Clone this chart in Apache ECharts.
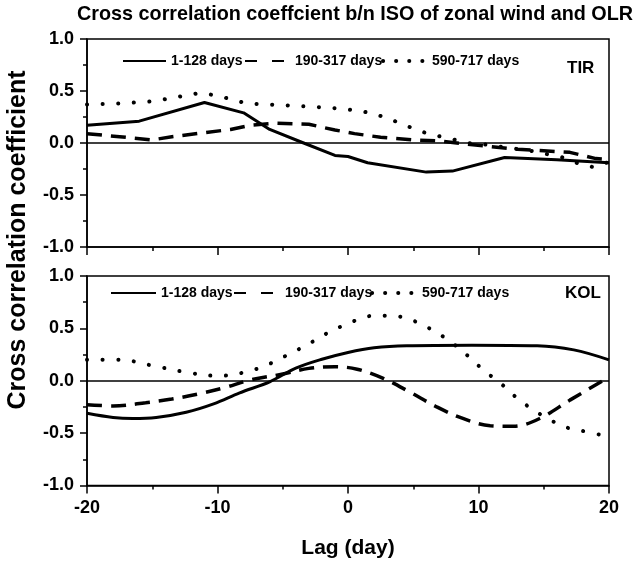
<!DOCTYPE html>
<html><head><meta charset="utf-8">
<script src="https://cdn.jsdelivr.net/npm/echarts@6/dist/echarts.min.js"></script>
<style>html,body{margin:0;padding:0;background:#fff}#c{width:636px;height:561px}</style>
</head><body><div id="c"></div>
<script>
// ---- Data ----
const seriesNames = ['1-128 days', '190-317 days', '590-717 days'];
const panelNames = ['TIR', 'KOL'];
const xTickLabels = {'-20': '-20', '-10': '-10', '0': '0', '10': '10', '20': '20'};
const yTickLabels = {'-1': '-1.0', '-0.5': '-0.5', '0': '0.0', '0.5': '0.5', '1': '1.0'};

// TIR panel
const tirSolidLag = [-20, -16, -11, -8, -6, -3.4, -1, 0, 1.5, 6, 8, 12, 16, 20];
const tirSolidVal = [0.17, 0.21, 0.39, 0.29, 0.13, 0.0, -0.12, -0.13, -0.19, -0.28, -0.27, -0.14, -0.16, -0.19];
const tirDashLag = [-20, -17.5, -15, -13.5, -11, -9, -7.5, -5.5, -3, -1, 0.5, 2.5, 5, 7, 9, 11, 13, 15, 17, 19, 20];
const tirDashVal = [0.09, 0.06, 0.03, 0.06, 0.10, 0.13, 0.17, 0.19, 0.18, 0.125, 0.09, 0.055, 0.03, 0.02, -0.01, -0.035, -0.06, -0.075, -0.09, -0.15, -0.16];
const tirDotLag = [-20, -17.5, -15, -12.5, -11.4, -10.2, -8.9, -7.8, -5.2, -2.9, -0.5, 0.8, 1.9, 3.2, 4.4, 5.6, 6.8, 7.9, 9.2, 10.4, 11.6, 14.1, 16.5, 17.8, 18.9, 20];
const tirDotVal = [0.37, 0.38, 0.40, 0.455, 0.48, 0.46, 0.42, 0.38, 0.365, 0.35, 0.33, 0.31, 0.285, 0.23, 0.17, 0.11, 0.07, 0.04, 0.0, -0.013, -0.035, -0.077, -0.14, -0.205, -0.235, -0.18];

// KOL panel
const kolSolidLag = [-20, -18, -16.5, -14.7, -12.4, -10.3, -8.3, -6, -4, -2, 0, 2, 4.5, 9.5, 14.5, 17.3, 20];
const kolSolidVal = [-0.31, -0.35, -0.36, -0.35, -0.30, -0.22, -0.115, -0.01, 0.12, 0.205, 0.27, 0.315, 0.335, 0.34, 0.335, 0.295, 0.20];
const kolDashLag = [-20, -18, -15.5, -13.5, -11.5, -9.5, -7.5, -5, -3, -1, 0.7, 2.7, 4.7, 6.8, 8.8, 10.9, 12.7, 14.7, 17, 19.8];
const kolDashVal = [-0.23, -0.24, -0.21, -0.175, -0.127, -0.067, 0.007, 0.064, 0.118, 0.134, 0.11, 0.023, -0.105, -0.25, -0.36, -0.43, -0.435, -0.36, -0.185, 0.02];
const kolDotLag = [-20, -17.5, -15, -12.6, -10.2, -8.9, -7.8, -6.5, -5.3, -4.1, -2.9, -1.7, -0.5, 0.7, 1.9, 3.2, 4.4, 5.6, 6.8, 8, 9.2, 10.4, 11.7, 12.9, 14.1, 15.3, 16.6, 18, 19.5];
const kolDotVal = [0.20, 0.20, 0.145, 0.086, 0.048, 0.055, 0.086, 0.134, 0.205, 0.28, 0.36, 0.447, 0.52, 0.58, 0.62, 0.62, 0.60, 0.54, 0.46, 0.36, 0.236, 0.10, -0.025, -0.16, -0.27, -0.36, -0.44, -0.48, -0.52];

// ---- Chart ----
const FONT = '"Liberation Sans", Arial, sans-serif';
const BLACK = '#000';
const zip = (a, b) => a.map((x, i) => [x, b[i]]);

const styles = [
  {width: 3, type: 'solid', color: BLACK},
  {width: 3.5, type: [15, 9], color: BLACK},
  {width: 4, type: [0.1, 15.5], cap: 'round', color: BLACK}
];
const panels = [
  [zip(tirSolidLag, tirSolidVal), zip(tirDashLag, tirDashVal), zip(tirDotLag, tirDotVal)],
  [zip(kolSolidLag, kolSolidVal), zip(kolDashLag, kolDashVal), zip(kolDotLag, kolDotVal)]
];
const smoothing = [false, 0.35];

const grids = [
  {left: 87, right: 27, top: 39, height: 208, show: true, borderColor: BLACK, borderWidth: 1.5},
  {left: 87, right: 27, top: 276, height: 209.5, show: true, borderColor: BLACK, borderWidth: 1.5}
];

const xAxes = grids.map((g, i) => ({
  type: 'value', gridIndex: i, min: -20, max: 20, interval: 10,
  axisLine: {show: true, onZero: false, lineStyle: {color: BLACK, width: 1.5}},
  axisTick: {show: true, length: 8, lineStyle: {color: BLACK, width: 1.5}},
  minorTick: {show: true, splitNumber: 2, length: 4, lineStyle: {color: BLACK, width: 1.5}},
  splitLine: {show: false},
  axisLabel: {show: i === 1, margin: 14, color: BLACK, fontFamily: FONT, fontWeight: 'bold', fontSize: 18,
    formatter: v => xTickLabels[String(v)]},
  name: i === 1 ? 'Lag (day)' : '', nameLocation: 'middle', nameGap: 52,
  nameTextStyle: {color: BLACK, fontFamily: FONT, fontWeight: 'bold', fontSize: 21}
}));

const yAxes = grids.map((g, i) => ({
  type: 'value', gridIndex: i, min: -1, max: 1, interval: 0.5,
  axisLine: {show: true, onZero: false, lineStyle: {color: BLACK, width: 1.5}},
  axisTick: {show: true, length: 7, lineStyle: {color: BLACK, width: 1.5}},
  minorTick: {show: true, splitNumber: 2, length: 4, lineStyle: {color: BLACK, width: 1.5}},
  splitLine: {show: false},
  axisLabel: {margin: 13, color: BLACK, fontFamily: FONT, fontWeight: 'bold', fontSize: 18,
    formatter: v => yTickLabels[String(Math.round(v * 10) / 10)]}
}));

const series = [];
panels.forEach((pd, p) => {
  pd.forEach((data, s) => {
    const ser = {
      type: 'line', name: seriesNames[s], xAxisIndex: p, yAxisIndex: p,
      data: data, symbol: 'none', smooth: smoothing[p], lineStyle: styles[s],
      itemStyle: {color: BLACK}, z: 3, animation: false
    };
    if (s === 0) {
      ser.markLine = {silent: true, symbol: ['none', 'none'], label: {show: false},
        lineStyle: {color: BLACK, width: 1.5, type: 'solid'}, data: [{yAxis: 0}], animation: false};
    }
    series.push(ser);
  });
});

// legends: one per series per panel
const legendPos = [
  [{left: 122, w: 43}, {left: 244, w: 45}, {left: 381, w: 44}],
  [{left: 110, w: 45}, {left: 233, w: 46}, {left: 370, w: 45}]
];
const legendTop = [54, 286];
const legendLine = [{}, {type: [12, 15]}, {type: [0.1, 13], cap: 'round', width: 4}];
const legends = [];
legendPos.forEach((row, p) => row.forEach((lp, s) => {
  legends.push({
    data: [seriesNames[s]], left: lp.left, top: legendTop[p], padding: 0,
    itemWidth: lp.w, itemHeight: 14, itemGap: 0, selectedMode: false,
    lineStyle: legendLine[s],
    itemStyle: {opacity: 0, borderWidth: 0, color: 'rgba(0,0,0,0)'},
    textStyle: {color: BLACK, fontFamily: FONT, fontWeight: 'bold', fontSize: 14}
  });
}));

const option = {
  backgroundColor: '#fff',
  animation: false,
  title: [
    {text: 'Cross correlation coeffcient b/n ISO of zonal wind and OLR', left: 77, top: 5, padding: 0,
      textStyle: {color: BLACK, fontFamily: FONT, fontWeight: 'bold', fontSize: 19.8}},
    {text: panelNames[0], left: 567, top: 60, padding: 0,
      textStyle: {color: BLACK, fontFamily: FONT, fontWeight: 'bold', fontSize: 17}},
    {text: panelNames[1], left: 565, top: 285, padding: 0,
      textStyle: {color: BLACK, fontFamily: FONT, fontWeight: 'bold', fontSize: 17}}
  ],
  graphic: [{
    type: 'text', x: 18, y: 240, rotation: Math.PI / 2,
    style: {text: 'Cross correlation coefficient', fill: BLACK,
      font: 'bold 25px ' + FONT, textAlign: 'center', textVerticalAlign: 'middle',
      align: 'center', verticalAlign: 'middle'}
  }],
  legend: legends,
  grid: grids,
  xAxis: xAxes,
  yAxis: yAxes,
  series: series
};
const chart = echarts.init(document.getElementById('c'), null, {renderer: 'canvas'});
chart.setOption(option);
</script>
</body></html>
